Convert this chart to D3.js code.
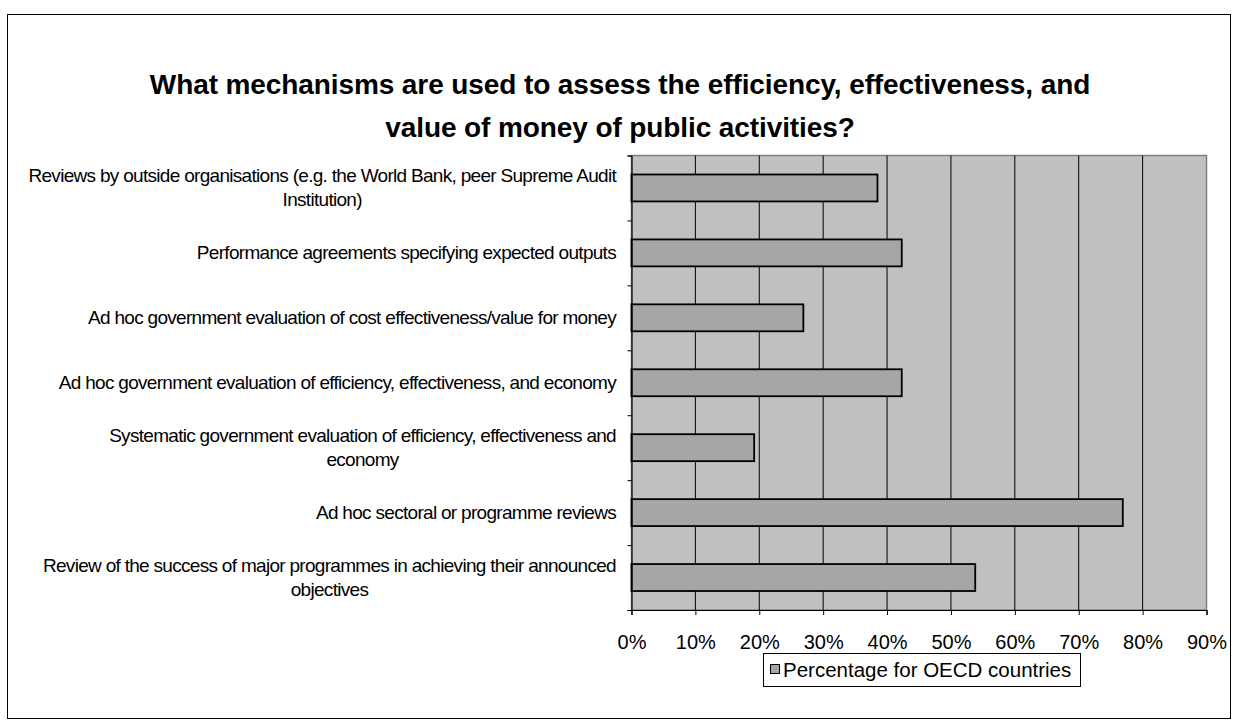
<!DOCTYPE html>
<html><head><meta charset="utf-8">
<script src="https://cdn.jsdelivr.net/npm/d3@7/dist/d3.min.js"></script>
<style>body{margin:0;background:#fff}svg{display:block}</style>
</head><body>
<svg id="c" width="1238" height="725"></svg>
<script>
const categories = [
  ["Reviews by outside organisations (e.g. the World Bank, peer Supreme Audit", "Institution)"],
  ["Performance agreements specifying expected outputs"],
  ["Ad hoc government evaluation of cost effectiveness/value for money"],
  ["Ad hoc government evaluation of efficiency, effectiveness, and economy"],
  ["Systematic government evaluation of efficiency, effectiveness and", "economy"],
  ["Ad hoc sectoral or programme reviews"],
  ["Review of the success of major programmes in achieving their announced", "objectives"]
];
const values = [38.5, 42.3, 26.9, 42.3, 19.2, 76.9, 53.8];
const xTicks = [0, 10, 20, 30, 40, 50, 60, 70, 80, 90];
const seriesName = "Percentage for OECD countries";
const titleLines = ["What mechanisms are used to assess the efficiency, effectiveness, and", "value of money of public activities?"];

const svg = d3.select("#c");
const font = "'Liberation Sans', Arial, sans-serif";
svg.append("rect").attr("x", 7.5).attr("y", 14.5).attr("width", 1223).attr("height", 704)
  .attr("fill", "#fff").attr("stroke", "#000").attr("stroke-width", 1);

const L = 631.5, R = 1206.5, T = 155.5, B = 610;
const x = d3.scaleLinear().domain([0, 90]).range([L, R]);
const y = d3.scaleBand().domain(d3.range(categories.length)).range([T, B]).paddingInner(0.585).paddingOuter(0.2925);

// title
svg.append("g").selectAll("text").data(titleLines).join("text")
  .attr("x", 620).attr("y", (d, i) => 94 + i * 43)
  .attr("text-anchor", "middle").attr("font-family", font).attr("font-weight", "bold")
  .attr("font-size", 28).attr("letter-spacing", -0.1).attr("fill", "#000").text(d => d);

// plot area
svg.append("rect").attr("x", L).attr("y", T).attr("width", R - L).attr("height", B - T)
  .attr("fill", "#c0c0c0").attr("stroke", "#808080").attr("stroke-width", 1.5);

// gridlines
svg.append("g").selectAll("line").data(xTicks.slice(1, -1)).join("line")
  .attr("x1", d => x(d)).attr("x2", d => x(d)).attr("y1", T).attr("y2", B)
  .attr("stroke", "#000").attr("stroke-width", 1);

// bars
svg.append("g").selectAll("rect").data(values).join("rect")
  .attr("x", x(0)).attr("y", (d, i) => y(i)).attr("width", d => x(d) - x(0)).attr("height", y.bandwidth())
  .attr("fill", "#a6a6a6").attr("stroke", "#000").attr("stroke-width", 1.8);

// x axis
const xAxis = svg.append("g").attr("transform", `translate(0,${B})`)
  .call(d3.axisBottom(x).tickValues(xTicks).tickSize(5).tickFormat(d => d + "%"));
xAxis.select(".domain").attr("stroke", "#000").attr("stroke-width", 1.2);
xAxis.selectAll(".tick line").attr("stroke", "#000");
xAxis.selectAll("text").attr("font-family", font).attr("font-size", 20).attr("fill", "#000")
  .attr("y", 19).attr("dy", "1em");

// y axis
const yb = d3.scaleLinear().domain([0, categories.length]).range([T, B]);
const yAxis = svg.append("g").attr("transform", `translate(${L},0)`)
  .call(d3.axisLeft(yb).ticks(categories.length).tickSize(4).tickFormat(""));
yAxis.select(".domain").attr("stroke", "#000").attr("stroke-width", 1.2);
yAxis.selectAll(".tick line").attr("stroke", "#000");

// category labels
const lab = svg.append("g");
categories.forEach((lines, i) => {
  const cy = y(i) + y.bandwidth() / 2;
  const lh = 24;
  const g = lab.append("text").attr("font-family", font).attr("font-size", 19).attr("fill", "#000")
    .attr("letter-spacing", -0.7);
  lines.forEach((t, j) => {
    g.append("tspan").attr("x", 616).attr("y", cy + (j - (lines.length - 1) / 2) * lh + 6.5)
      .attr("text-anchor", "end").text(t);
  });
  if (lines.length > 1) {
    const tsp = g.selectAll("tspan").nodes();
    const w0 = tsp[0].getComputedTextLength();
    const c = 616 - w0 / 2;
    tsp.slice(1).forEach(n => d3.select(n).attr("x", c).attr("text-anchor", "middle"));
  }
});

// legend
const lg = svg.append("g");
lg.append("rect").attr("x", 763.5).attr("y", 653.5).attr("width", 317).attr("height", 33)
  .attr("fill", "#fff").attr("stroke", "#000").attr("stroke-width", 1);
lg.append("rect").attr("x", 770.5).attr("y", 664.5).attr("width", 9).attr("height", 9)
  .attr("fill", "#a6a6a6").attr("stroke", "#000").attr("stroke-width", 1);
lg.append("text").attr("x", 783).attr("y", 676.5).attr("font-family", font).attr("font-size", 20.5)
  .attr("fill", "#000").text(seriesName);
</script>
</body></html>
